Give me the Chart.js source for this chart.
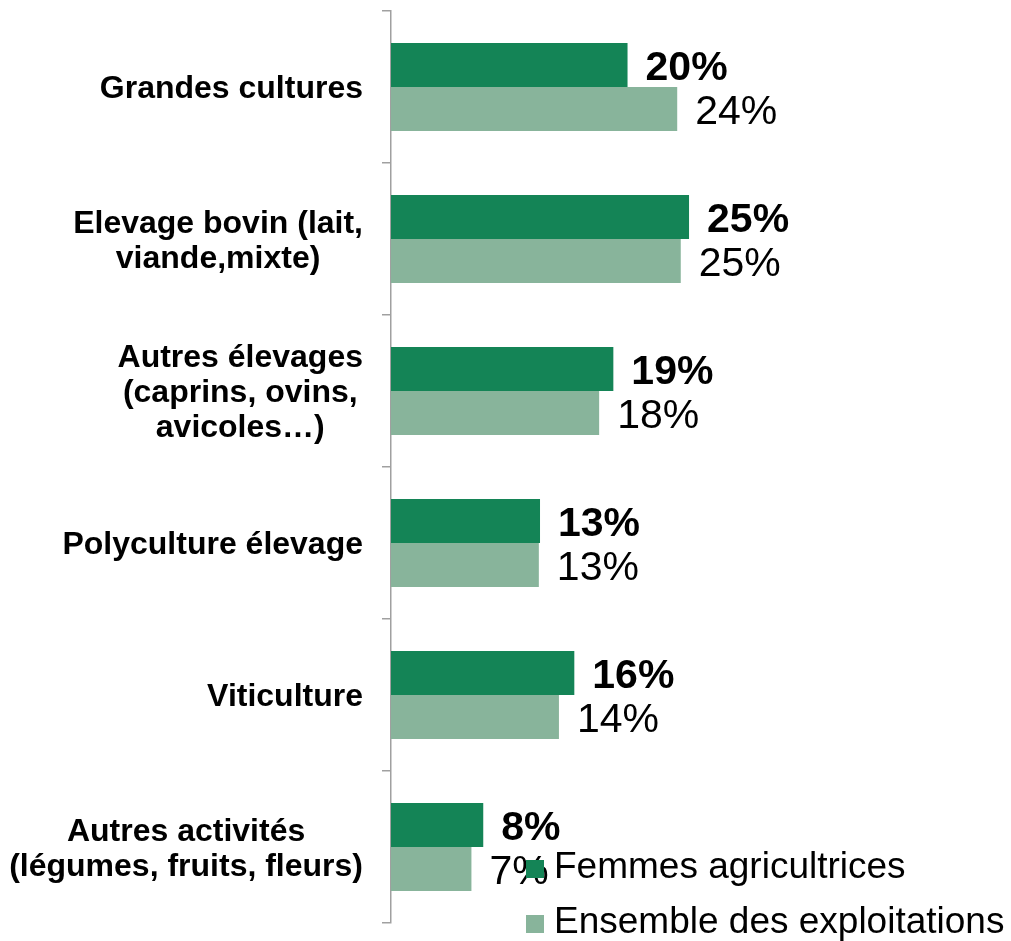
<!DOCTYPE html>
<html>
<head>
<meta charset="utf-8">
<script src="https://cdn.jsdelivr.net/npm/chart.js@4/dist/chart.umd.min.js"></script>
<style>
  html, body { margin: 0; padding: 0; background: #ffffff; }
  #wrap { width: 1011px; height: 941px; position: relative; }
</style>
</head>
<body>
<div id="wrap"><canvas id="typeChart"></canvas></div>
<script>
// Categories (multi-line labels, as in the original)
const categories = [
    ['Grandes cultures'],
    ['Elevage bovin (lait,', 'viande,mixte)'],
    ['Autres élevages', '(caprins, ovins,', 'avicoles…)'],
    ['Polyculture élevage'],
    ['Viticulture'],
    ['Autres activités', '(légumes, fruits, fleurs)']
];

const seriesNames = ['Femmes agricultrices', 'Ensemble des exploitations'];

// Values in %
const femmes = [20.0, 25.2, 18.8, 12.6, 15.5, 7.8];
const ensemble = [24.2, 24.5, 17.6, 12.5, 14.2, 6.8];

const darkGreen = '#148456';
const lightGreen = '#88B49B';
const axisGrey = '#A0A0A0';
const fontFamily = '"Liberation Sans", Arial, sans-serif';

// Category labels: right-aligned block, lines centred inside it
const categoryLabels = {
    id: 'categoryLabels',
    afterDraw(chart) {
        const ctx = chart.ctx;
        const yScale = chart.scales.y;
        const rightEdge = yScale.right - 28;
        const lineH = 35;
        ctx.save();
        ctx.font = 'bold 32px ' + fontFamily;
        ctx.fillStyle = '#000000';
        ctx.textAlign = 'center';
        ctx.textBaseline = 'alphabetic';
        categories.forEach((lines, i) => {
            const cy = yScale.getPixelForValue(i);
            const maxW = Math.max(...lines.map(l => ctx.measureText(l).width));
            const cx = rightEdge - maxW / 2;
            lines.forEach((line, j) => {
                const y = cy + 11 + (j - (lines.length - 1) / 2) * lineH;
                ctx.fillText(line, cx, y);
            });
        });
        ctx.restore();
    }
};

// Value labels to the right of each bar, then the legend on top
const valueLabels = {
    id: 'valueLabels',
    afterDatasetsDraw(chart) {
        const ctx = chart.ctx;
        ctx.save();
        ctx.fillStyle = '#000000';
        ctx.textAlign = 'left';
        ctx.textBaseline = 'alphabetic';
        chart.data.datasets.forEach((ds, di) => {
            ctx.font = (di === 0 ? 'bold ' : '') + '41px ' + fontFamily;
            chart.getDatasetMeta(di).data.forEach((bar, i) => {
                ctx.fillText(Math.round(ds.data[i]) + '%', bar.x + 18, bar.y + 15);
            });
        });

        // legend
        ctx.font = '37px ' + fontFamily;
        chart.data.datasets.forEach((ds, di) => {
            const base = 878 + di * 55;
            ctx.fillStyle = ds.backgroundColor;
            ctx.fillRect(526, base - 18, 18, 18);
            ctx.fillStyle = '#000000';
            ctx.fillText(ds.label, 554, base);
        });
        ctx.restore();
    }
};

const ctx = document.getElementById('typeChart').getContext('2d');

new Chart(ctx, {
    type: 'bar',
    data: {
        labels: categories,
        datasets: [
            {
                label: seriesNames[0],
                data: femmes,
                backgroundColor: darkGreen,
                borderWidth: 0,
                categoryPercentage: 0.58,
                barPercentage: 1.0
            },
            {
                label: seriesNames[1],
                data: ensemble,
                backgroundColor: lightGreen,
                borderWidth: 0,
                categoryPercentage: 0.58,
                barPercentage: 1.0
            }
        ]
    },
    options: {
        indexAxis: 'y',
        responsive: true,
        maintainAspectRatio: false,
        animation: false,
        layout: {
            padding: { top: 11, bottom: 18, left: 0, right: 5 }
        },
        plugins: {
            legend: { display: false },
            tooltip: { enabled: false }
        },
        scales: {
            x: {
                display: false,
                min: 0,
                max: 52
            },
            y: {
                afterFit: function(scale) {
                    scale.width = 391;
                },
                ticks: { display: false },
                grid: {
                    drawOnChartArea: false,
                    drawTicks: true,
                    tickLength: 9,
                    color: axisGrey,
                    lineWidth: 1.5
                },
                border: {
                    display: true,
                    color: axisGrey,
                    width: 1.5
                }
            }
        }
    },
    plugins: [categoryLabels, valueLabels]
});
</script>
</body>
</html>
